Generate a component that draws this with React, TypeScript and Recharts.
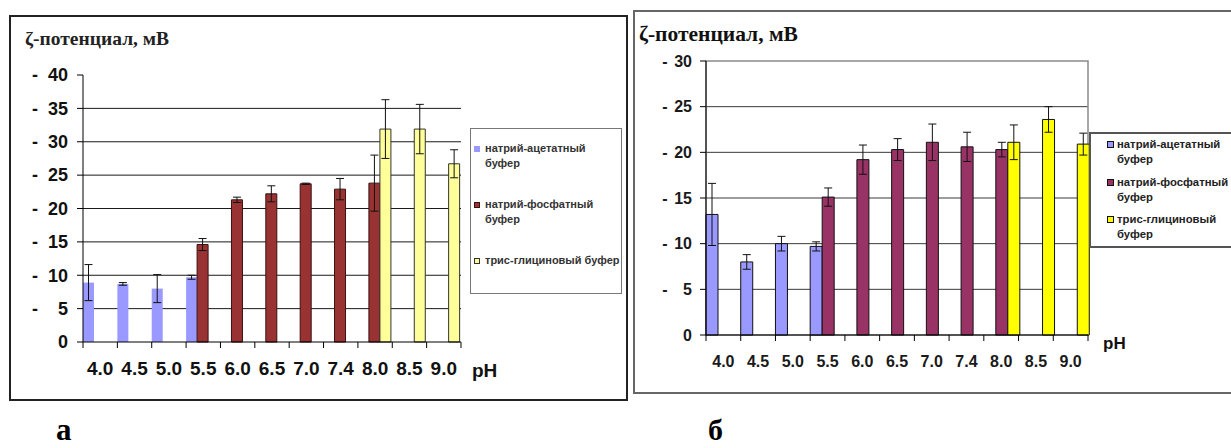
import React from 'react';
import { BarChart, Bar, XAxis, YAxis, CartesianGrid, ErrorBar, Legend, ReferenceArea } from 'recharts';

const phLabels = ['4.0', '4.5', '5.0', '5.5', '6.0', '6.5', '7.0', '7.4', '8.0', '8.5', '9.0'];
const bufferNames = ['натрий-ацетатный буфер', 'натрий-фосфатный буфер', 'трис-глициновый буфер'];
const yTitle = 'ζ-потенциал, мВ';

// panel а
const acetateA = [8.9, 8.7, 8.0, 9.7, null, null, null, null, null, null, null];
const acetateErrA = [2.7, 0.2, 2.1, 0.3, null, null, null, null, null, null, null];
const phosphateA = [null, null, null, 14.6, 21.3, 22.2, 23.7, 22.9, 23.8, null, null];
const phosphateErrA = [null, null, null, 0.9, 0.4, 1.2, 0.1, 1.6, 4.2, null, null];
const trisA = [null, null, null, null, null, null, null, null, 31.9, 31.9, 26.7];
const trisErrA = [null, null, null, null, null, null, null, null, 4.4, 3.7, 2.1];
const ticksA = [0, 5, 10, 15, 20, 25, 30, 35, 40];
const gridA = [5, 10, 15, 20, 25, 30, 35];

// panel б
const acetateB = [13.2, 8.0, 10.0, 9.7, null, null, null, null, null, null, null];
const acetateErrB = [3.4, 0.8, 0.8, 0.5, null, null, null, null, null, null, null];
const phosphateB = [null, null, null, 15.1, 19.2, 20.3, 21.1, 20.6, 20.3, null, null];
const phosphateErrB = [null, null, null, 1.0, 1.6, 1.2, 2.0, 1.6, 0.8, null, null];
const trisB = [null, null, null, null, null, null, null, null, 21.1, 23.6, 20.9];
const trisErrB = [null, null, null, null, null, null, null, null, 1.9, 1.4, 1.2];
const ticksB = [0, 5, 10, 15, 20, 25, 30];
const gridB = [5, 10, 15, 20, 25];

const SANS = 'Arial, "Liberation Sans", sans-serif';
const SERIF = '"Times New Roman", "Liberation Serif", serif';

type Num = number | null;
const buildRows = (ac: Num[], acE: Num[], ph: Num[], phE: Num[], tr: Num[], trE: Num[]) =>
  phLabels.map((label, i) => ({
    label,
    acetate: ac[i],
    acetateErr: acE[i],
    phosphate: ph[i],
    phosphateErr: phE[i],
    tris: tr[i],
    trisErr: trE[i],
  }));

const rowsA = buildRows(acetateA, acetateErrA, phosphateA, phosphateErrA, trisA, trisErrA);
const rowsB = buildRows(acetateB, acetateErrB, phosphateB, phosphateErrB, trisB, trisErrB);

// category label with ticks on the band edges, like Excel
const PhTick = (props: any) => {
  const { x, y, payload, index, half, size, dy, tickLen, color } = props;
  const h = payload && payload.offset > 0 ? payload.offset : half;
  return (
    <g>
      <line x1={x - h} x2={x - h} y1={y} y2={y + tickLen} stroke="#000" />
      {index === phLabels.length - 1 && <line x1={x + h} x2={x + h} y1={y} y2={y + tickLen} stroke="#000" />}
      <text x={x} y={y + dy} textAnchor="middle" fontSize={size} fontWeight="bold" fontFamily={SANS} fill={color}>
        {payload.value}
      </text>
    </g>
  );
};

// values are negative potentials, shown with a detached minus
const MinusTick = (props: any) => {
  const { x, y, payload, size, dashGap, color } = props;
  return (
    <g fontSize={size} fontWeight="bold" fontFamily={SANS} fill={color}>
      {payload.value !== 0 && (
        <text x={x - dashGap} y={y} dy={size * 0.35} textAnchor="middle">-</text>
      )}
      <text x={x} y={y} dy={size * 0.35} textAnchor="end">{payload.value}</text>
    </g>
  );
};

const PhLabel = (props: any) => {
  const { viewBox, dx, dy, size } = props;
  if (!viewBox) return null;
  return (
    <text x={viewBox.x + viewBox.width + dx} y={viewBox.y + dy} fontSize={size} fontWeight="bold" fontFamily={SANS} fill="#111">
      pH
    </text>
  );
};

const BufferLegend = (props: any) => {
  const { payload = [], box, fontSize, lineHeight, gap, marker, splitLast, color } = props;
  return (
    <div
      style={{
        ...box,
        boxSizing: 'border-box',
        background: '#fff',
        fontFamily: SANS,
        fontWeight: 'bold',
        fontSize,
        lineHeight: `${lineHeight}px`,
        color,
        whiteSpace: 'nowrap',
        overflow: 'hidden',
      }}
    >
      {payload.map((entry: any, i: number) => {
        const name = String(entry.value);
        const cut = name.lastIndexOf(' ');
        const lines = splitLast || i < payload.length - 1 ? [name.slice(0, cut), name.slice(cut + 1)] : [name];
        const stroke = entry.payload && entry.payload.stroke && entry.payload.stroke !== 'none' ? entry.payload.stroke : entry.color;
        return (
          <div key={name} style={{ display: 'flex', alignItems: 'flex-start', marginBottom: gap }}>
            <span
              style={{
                display: 'inline-block',
                boxSizing: 'border-box',
                width: marker.size,
                height: marker.size,
                marginTop: (lineHeight - marker.size) / 2,
                marginRight: marker.gap,
                background: entry.color,
                border: `1px solid ${stroke}`,
                flex: 'none',
              }}
            />
            <div>
              {lines.map((l) => (
                <div key={l}>{l}</div>
              ))}
            </div>
          </div>
        );
      })}
    </div>
  );
};

export default function App() {
  return (
    <div style={{ position: 'absolute', left: 0, top: 0, width: 1231, height: 448, overflow: 'hidden', background: '#fff' }}>
      <div style={{ position: 'absolute', left: 9, top: 15, width: 619, height: 386, border: '2px solid #222', boxSizing: 'border-box' }} />
      <div style={{ position: 'absolute', left: 633, top: 10, width: 640, height: 384, border: '2px solid #666', boxSizing: 'border-box' }} />

      <div style={{ position: 'absolute', left: 0, top: 0 }}>
        <BarChart width={630} height={400} data={rowsA} margin={{ top: 75, right: 169, bottom: 28, left: 23 }} barCategoryGap={0} barGap={0}>
          <CartesianGrid vertical={false} horizontalValues={gridA} stroke="#1a1a1a" />
          <XAxis
            dataKey="label"
            interval={0}
            tickSize={0}
            tickMargin={0}
            height={30}
            axisLine={{ stroke: '#000' }}
            tick={<PhTick half={17.2} size={19} dy={33} tickLen={6} color="#111" />}
            label={<PhLabel dx={11} dy={35} size={19} />}
          />
          <YAxis
            domain={[0, 40]}
            ticks={ticksA}
            interval={0}
            width={60}
            tickSize={6}
            tickMargin={9}
            axisLine={{ stroke: '#000' }}
            tickLine={{ stroke: '#000' }}
            tick={<MinusTick size={18} dashGap={33} color="#111" />}
          />
          <Legend
            layout="vertical"
            align="center"
            verticalAlign="middle"
            wrapperStyle={{ left: 470, top: 128 }}
            content={
              <BufferLegend
                box={{ width: 152, height: 166, border: '1px solid #777', padding: '12px 0 0 3px' }}
                fontSize={11}
                lineHeight={15}
                gap={26}
                marker={{ size: 6, gap: 5 }}
                splitLast={false}
                color="#333"
              />
            }
          />
          <Bar dataKey="acetate" name={bufferNames[0]} fill="#9999FF" isAnimationActive={false}>
            <ErrorBar dataKey="acetateErr" width={4} stroke="#111" strokeWidth={1} />
          </Bar>
          <Bar dataKey="phosphate" name={bufferNames[1]} fill="#993333" stroke="#3a1010" isAnimationActive={false}>
            <ErrorBar dataKey="phosphateErr" width={4} stroke="#111" strokeWidth={1} />
          </Bar>
          <Bar dataKey="tris" name={bufferNames[2]} fill="#FFFF99" stroke="#333" isAnimationActive={false}>
            <ErrorBar dataKey="trisErr" width={4} stroke="#111" strokeWidth={1} />
          </Bar>
        </BarChart>
      </div>

      <div style={{ position: 'absolute', left: 630, top: 0 }}>
        <BarChart width={601} height={400} data={rowsB} margin={{ top: 61, right: 143, bottom: 35, left: 16 }} barCategoryGap={0} barGap={0}>
          <CartesianGrid vertical={false} horizontalValues={gridB} stroke="#3a3a3a" />
          <ReferenceArea x1="4.0" x2="9.0" y1={0} y2={30} fill="none" stroke="#8a8a8a" strokeWidth={1.5} />
          <XAxis
            dataKey="label"
            interval={0}
            tickSize={0}
            tickMargin={0}
            height={30}
            axisLine={{ stroke: '#000' }}
            tick={<PhTick half={17.3} size={16} dy={32} tickLen={6} color="#1a1a1a" />}
            label={<PhLabel dx={15} dy={14} size={17} />}
          />
          <YAxis
            domain={[0, 30]}
            ticks={ticksB}
            interval={0}
            width={60}
            tickSize={6}
            tickMargin={8}
            axisLine={{ stroke: '#000' }}
            tickLine={{ stroke: '#000' }}
            tick={<MinusTick size={16} dashGap={27} color="#1a1a1a" />}
          />
          <Legend
            layout="vertical"
            align="center"
            verticalAlign="middle"
            wrapperStyle={{ left: 459, top: 132 }}
            content={
              <BufferLegend
                box={{ width: 160, height: 116, border: '2px solid #555', padding: '3px 0 0 16px' }}
                fontSize={11.3}
                lineHeight={15}
                gap={7.5}
                marker={{ size: 7, gap: 3 }}
                splitLast={true}
                color="#222"
              />
            }
          />
          <Bar dataKey="acetate" name={bufferNames[0]} fill="#9999FF" stroke="#111" isAnimationActive={false}>
            <ErrorBar dataKey="acetateErr" width={4} stroke="#111" strokeWidth={1} />
          </Bar>
          <Bar dataKey="phosphate" name={bufferNames[1]} fill="#993366" stroke="#111" isAnimationActive={false}>
            <ErrorBar dataKey="phosphateErr" width={4} stroke="#111" strokeWidth={1} />
          </Bar>
          <Bar dataKey="tris" name={bufferNames[2]} fill="#FFFF00" stroke="#111" isAnimationActive={false}>
            <ErrorBar dataKey="trisErr" width={4} stroke="#111" strokeWidth={1} />
          </Bar>
        </BarChart>
      </div>

      <svg width={1231} height={448} style={{ position: 'absolute', left: 0, top: 0, pointerEvents: 'none' }}>
        <text x={25} y={45} fontFamily={SERIF} fontWeight="bold" fontSize={19.5} fill="#222">{yTitle}</text>
        <text x={639} y={41} fontFamily={SERIF} fontWeight="bold" fontSize={21.5} fill="#111">{yTitle}</text>
        <text x={56} y={440} fontFamily={SERIF} fontWeight="bold" fontSize={31} fill="#000">а</text>
        <text x={708} y={440} fontFamily={SERIF} fontWeight="bold" fontSize={30} fill="#000">б</text>
      </svg>
    </div>
  );
}
